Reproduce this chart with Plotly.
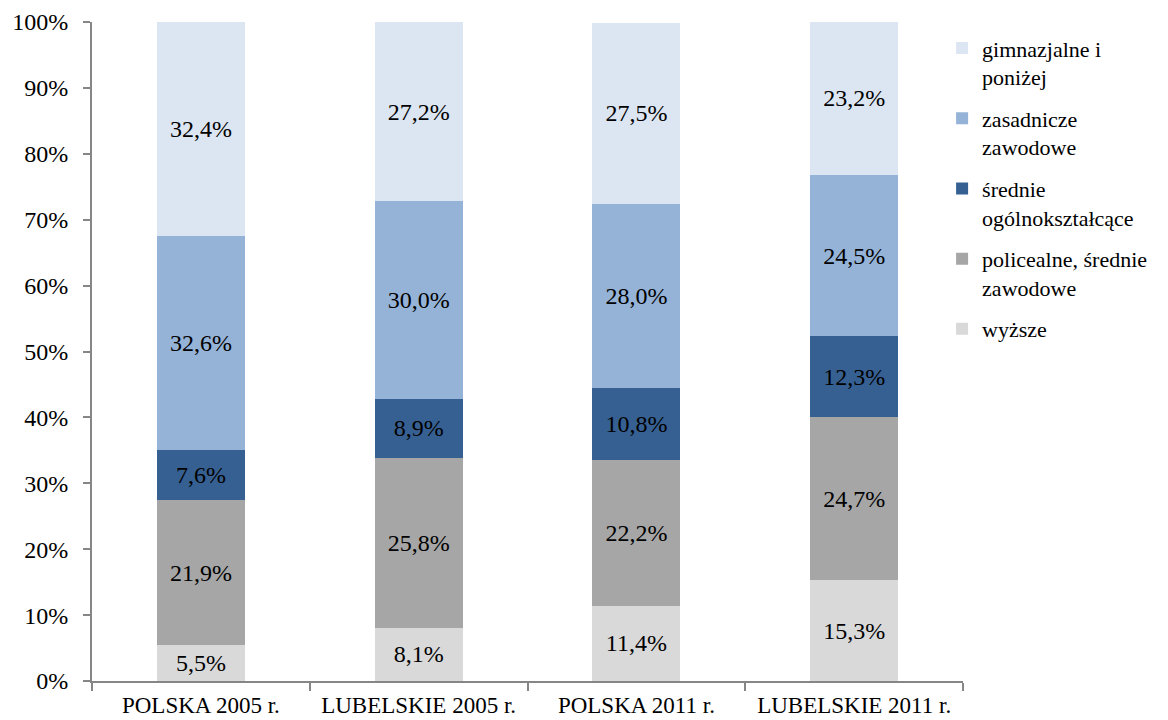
import plotly.graph_objects as go

categories = ["POLSKA 2005 r.", "LUBELSKIE 2005 r.", "POLSKA 2011 r.", "LUBELSKIE 2011 r."]
series_names = [
    "wyższe",
    "policealne, średnie<br>zawodowe",
    "średnie<br>ogólnokształcące",
    "zasadnicze<br>zawodowe",
    "gimnazjalne i<br>poniżej",
]
wyzsze = [5.5, 8.1, 11.4, 15.3]
policealne = [21.9, 25.8, 22.2, 24.7]
srednie_ogolne = [7.6, 8.9, 10.8, 12.3]
zasadnicze = [32.6, 30.0, 28.0, 24.5]
gimnazjalne = [32.4, 27.2, 27.5, 23.2]
series_values = [wyzsze, policealne, srednie_ogolne, zasadnicze, gimnazjalne]
colors = ["#d9d9d9", "#a6a6a6", "#376092", "#95b3d7", "#dce6f2"]
y_ticks = [0, 10, 20, 30, 40, 50, 60, 70, 80, 90, 100]
y_tick_labels = [f"{v}%" for v in y_ticks]

FONT = "Liberation Serif"

fig = go.Figure()
n = len(series_names)
for i, (name, vals, col) in enumerate(zip(series_names, series_values, colors)):
    fig.add_trace(go.Bar(
        x=categories,
        y=vals,
        name=name,
        marker=dict(color=col, line=dict(width=0)),
        text=[f"{v:.1f}%".replace(".", ",") for v in vals],
        textposition="inside",
        insidetextanchor="middle",
        textfont=dict(family=FONT, size=24, color="black"),
        constraintext="none",
        legendgroup=str(i),
        legendrank=n - i,
        hoverinfo="skip",
    ))

# page body has an 8px default margin, so the figure is drawn 8px smaller
fig.update_layout(
    barmode="stack",
    bargap=0.596,
    width=1160,
    height=712,
    margin=dict(l=84, r=205, t=14, b=39, autoexpand=False),
    plot_bgcolor="white",
    paper_bgcolor="white",
    font=dict(family=FONT, size=24, color="black"),
    uniformtext=dict(minsize=24, mode="show"),
    legend=dict(
        x=0.976, y=0.992, xanchor="left", yanchor="top",
        traceorder="grouped",
        tracegroupgap=10,
        valign="top",
        font=dict(family=FONT, size=22, color="black"),
        itemwidth=30,
    ),
    showlegend=True,
)
fig.update_xaxes(
    type="category",
    automargin=False,
    showline=True, linecolor="#868686", linewidth=2,
    ticks="outside", tickson="boundaries", ticklen=8, tickwidth=2, tickcolor="#868686",
    ticklabelstandoff=2,
    showgrid=False,
    tickfont=dict(family=FONT, size=23, color="black"),
    range=[-0.5, 3.5],
)
fig.update_yaxes(
    automargin=False,
    range=[0, 100],
    tickvals=y_ticks, ticktext=y_tick_labels,
    showline=True, linecolor="#868686", linewidth=2,
    ticks="outside", ticklen=7, tickwidth=2, tickcolor="#868686",
    ticklabelstandoff=10,
    showgrid=False, zeroline=False,
    tickfont=dict(family=FONT, size=24, color="black"),
)

fig.write_html("out.html")
